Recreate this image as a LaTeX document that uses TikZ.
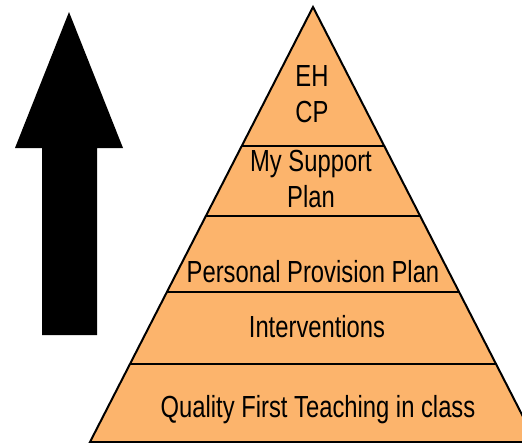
\documentclass[tikz,border=0pt]{standalone}
\usepackage{fontspec}
\usetikzlibrary{calc}
\newfontfamily\pyrfont[FakeStretch=0.78]{Liberation Sans}
\definecolor{pyrorange}{RGB}{252,180,108}
\begin{document}
\begin{tikzpicture}
[x=1pt, y=-1pt, line width=2pt,
tier/.style={font=\pyrfont\fontsize{30.5}{35.5}\selectfont, align=center, inner sep=0pt, anchor=base}]

\useasboundingbox (0,0) rectangle (522,442);
\clip (0,0) rectangle (522,442);

% upward arrow
\fill (69,12) -- (123,148) -- (97,148) -- (97,335) -- (42,335) -- (42,148) -- (15,148) -- cycle;

% pyramid
\coordinate (apex) at (313,7);
\coordinate (bl) at (90,442);
\coordinate (br) at (536,442);
\filldraw[fill=pyrorange] (apex) -- (bl) -- (br) -- cycle;

\foreach \t in {0.3195,0.4805,0.6552,0.8207} {
  \draw[line width=2.5pt] ($(apex)!\t!(bl)$) -- ($(apex)!\t!(br)$);
}

% base anchor of a two-line node is its last line
\node[tier] (ehcp) at (312,122) {EH\\CP};
\node[tier] (msp) at (311,207) {My Support\\Plan};
\node[tier] (ppp) at (313,282) {Personal Provision Plan};
\node[tier] (int) at (317,337) {Interventions};
\node[tier] (qft) at (318,417) {Quality First Teaching in class};
\end{tikzpicture}
\end{document}
